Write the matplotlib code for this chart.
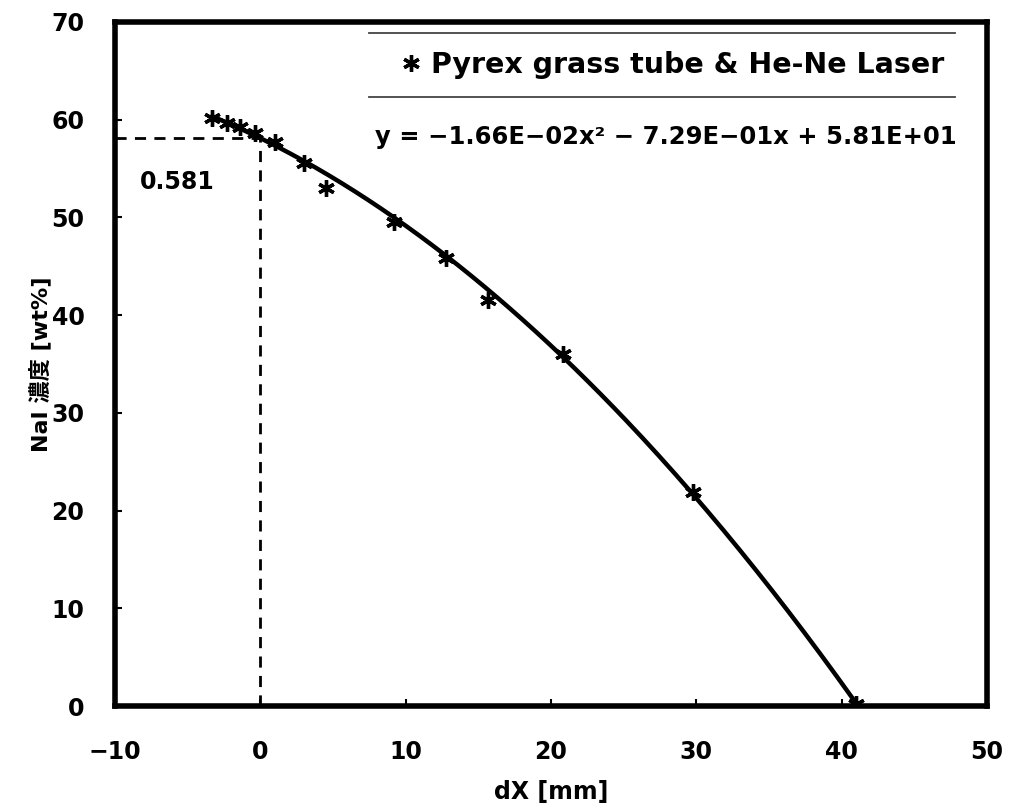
import matplotlib
matplotlib.use("Agg")
import matplotlib.pyplot as plt
import numpy as np

plt.rcParams["font.family"] = ["DejaVu Sans", "Noto Sans CJK JP"]
plt.rcParams["font.weight"] = "bold"

# measured points: displacement dX [mm] vs NaI concentration [wt%]
dx_mm = [-3.3, -2.3, -1.4, -0.4, 1.0, 3.0, 4.5, 9.2, 12.8, 15.7, 20.8, 29.8, 41.0]
nai_wt = [60.2, 59.6, 59.2, 58.6, 57.7, 55.6, 53.0, 49.5, 45.8, 41.5, 36.0, 21.9, 0.2]

# quadratic trend line coefficients (a x^2 + b x + c)
fit_coef = [-1.66e-02, -7.29e-01, 5.81e01]
x0_mark = 0.0
y0_mark = 58.1

fig = plt.figure(figsize=(10.09, 8.08), dpi=100)
ax = fig.add_axes([0.114, 0.126, 0.864, 0.847])

xx = np.linspace(min(dx_mm), max(dx_mm), 200)
ax.plot(xx, np.polyval(fit_coef, xx), color="black", linewidth=3.2, zorder=3)

ax.plot(dx_mm, nai_wt, linestyle="none", marker=(6, 2, 0), markersize=12,
        markeredgewidth=2.4, color="black", zorder=4,
        label="Pyrex grass tube & He-Ne Laser")

# guide lines to the value at dX = 0
ax.plot([-10, x0_mark], [y0_mark, y0_mark], "--", color="black",
        linewidth=2, dashes=(4, 3), zorder=2)
ax.plot([x0_mark, x0_mark], [0, y0_mark], "--", color="black",
        linewidth=2, dashes=(4, 3), zorder=2)
ax.text(-8.3, 53.6, "0.581", fontsize=17, fontweight="bold", ha="left", va="center")

ax.set_xlim(-10, 50)
ax.set_ylim(0, 70)
ax.set_xticks(np.arange(-10, 51, 10))
ax.set_yticks(np.arange(0, 71, 10))
ax.tick_params(direction="in", length=5, width=1.5, labelsize=17)
ax.tick_params(axis="x", pad=24)
ax.tick_params(axis="y", pad=22)
for lab in ax.get_xticklabels() + ax.get_yticklabels():
    lab.set_fontweight("bold")
for sp in ax.spines.values():
    sp.set_linewidth(4)

ax.set_xlabel("dX [mm]", fontsize=17, fontweight="bold", labelpad=12)
ax.set_ylabel("NaI 濃度 [wt%]", fontsize=16, fontweight="bold", labelpad=0)

leg = ax.legend(loc="center", bbox_to_anchor=(0.64, 0.937), frameon=False,
                handlelength=0.6, handletextpad=0.4, borderpad=0,
                prop={"size": 20.5, "weight": "bold"})
for ly in (0.984, 0.890):
    ax.plot([0.291, 0.963], [ly, ly], color="#444444", linewidth=1.3,
            transform=ax.transAxes, clip_on=False)

ax.text(0.632, 0.832, "y = −1.66E−02x² − 7.29E−01x + 5.81E+01",
        transform=ax.transAxes, fontsize=17.5, fontweight="bold",
        ha="center", va="center")

fig.savefig("out.png", dpi=100)
